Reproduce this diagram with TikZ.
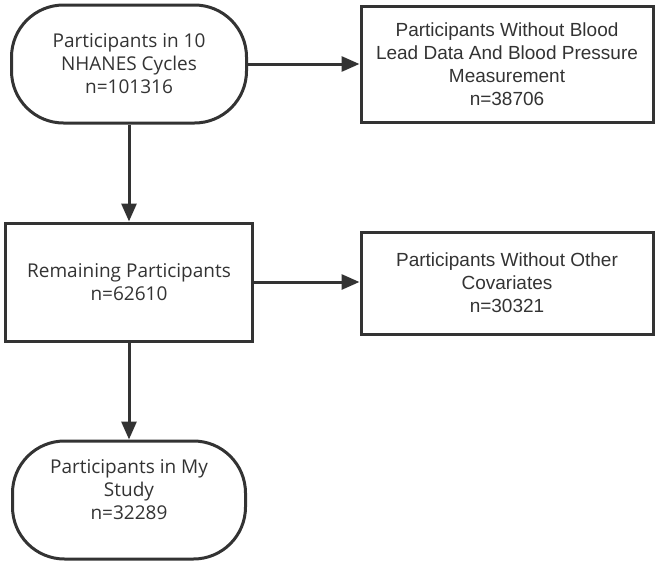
\documentclass[tikz,border=0pt]{standalone}
\usepackage{fontspec}
\setmainfont{Liberation Sans}
\newfontfamily\roundfont{Open Sans}
\usetikzlibrary{arrows.meta}
\definecolor{inkgray}{HTML}{333333}

\tikzset{
    terminal/.style={draw=inkgray, line width=3pt, rounded corners=52pt,
        minimum height=118pt, align=center, text=inkgray,
        font=\roundfont\fontsize{19}{23}\selectfont},
    process/.style={draw=inkgray, line width=3pt, minimum height=118pt,
        align=center, text=inkgray, font=\roundfont\fontsize{19}{23}\selectfont},
    excluded/.style={draw=inkgray, line width=3pt, minimum width=292pt,
        align=center, text=inkgray, font=\fontsize{19}{23}\selectfont},
    flow/.style={draw=inkgray, line width=3pt, -{Triangle[length=18pt,width=15pt]}}
}

\begin{document}
\begin{tikzpicture}[x=1pt, y=-1pt]
    \useasboundingbox (0, 0) rectangle (661, 568);

    \node[terminal, minimum width=235pt] (cycles) at (129, 64)
        {Participants in 10\\NHANES Cycles\\n=101316};
    \node[excluded, minimum height=116pt] (nolead) at (507, 64)
        {Participants Without Blood\\Lead Data And Blood Pressure\\Measurement\\n=38706};

    \node[process, minimum width=247pt] (remain) at (129, 282)
        {Remaining Participants\\n=62610};
    \node[excluded, minimum height=102pt] (nocov) at (507, 283)
        {Participants Without Other\\Covariates\\n=30321};

    \node[terminal, minimum width=233pt] (study) at (129, 500)
        {Participants in My\\Study\\n=32289\\[-3pt]};

    \draw[flow] (cycles.east) -- (nolead.west |- cycles.east);
    \draw[flow] (cycles.south) -- (remain.north);
    \draw[flow] (remain.east) -- (nocov.west |- remain.east);
    \draw[flow] (remain.south) -- (study.north);
\end{tikzpicture}
\end{document}
